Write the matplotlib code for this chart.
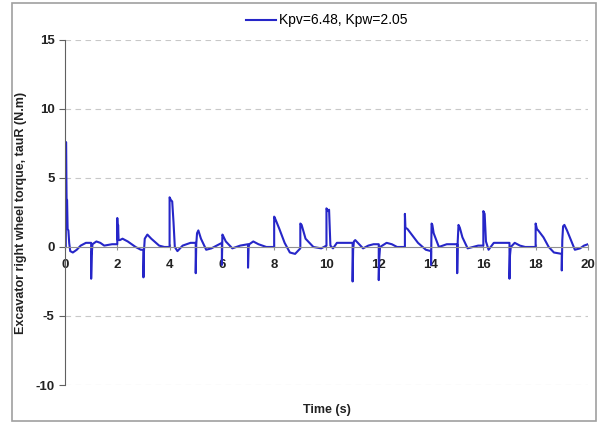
import numpy as np
import matplotlib.pyplot as plt
from matplotlib.patches import Rectangle

# Torque readings taken from the curve (time in s, torque in N.m)
t = [0.03, 0.04, 0.06, 0.08, 0.1, 0.13, 0.16, 0.2, 0.3, 0.45, 0.6, 0.8, 1.0,
     1.0, 1.02, 1.05, 1.2, 1.35, 1.5, 1.8, 2.0,
     2.0, 2.02, 2.03, 2.05, 2.1, 2.2, 2.4, 2.7, 2.9, 3.0,
     3.0, 3.02, 3.05, 3.15, 3.3, 3.6, 3.8, 4.0,
     4.0, 4.05, 4.1, 4.15, 4.2, 4.3, 4.5, 4.8, 5.0,
     5.0, 5.02, 5.05, 5.1, 5.2, 5.4, 5.6, 5.8, 6.0,
     6.0, 6.02, 6.05, 6.15, 6.4, 6.7, 7.0,
     7.0, 7.02, 7.05, 7.2, 7.4, 7.7, 8.0,
     8.0, 8.05, 8.2, 8.4, 8.6, 8.8, 9.0,
     9.0, 9.05, 9.2, 9.5, 9.8, 10.0,
     10.0, 10.05, 10.1, 10.15, 10.25, 10.4, 10.7, 11.0,
     11.0, 11.02, 11.05, 11.1, 11.25, 11.4, 11.6, 11.8, 12.0,
     12.0, 12.02, 12.05, 12.3, 12.5, 12.7, 13.0,
     13.0, 13.02, 13.1, 13.3, 13.5, 13.8, 14.0,
     14.0, 14.02, 14.05, 14.1, 14.3, 14.6, 15.0,
     15.0, 15.02, 15.05, 15.1, 15.2, 15.4, 15.6, 15.8, 16.0,
     16.0, 16.05, 16.1, 16.2, 16.4, 16.7, 17.0,
     17.0, 17.02, 17.05, 17.2, 17.4, 17.6, 18.0,
     18.0, 18.05, 18.1, 18.3, 18.5, 18.7, 19.0,
     19.0, 19.02, 19.05, 19.1, 19.2, 19.35, 19.5, 19.7, 19.85, 20.0]

tauR = [0.0, 7.6, 3.5, 3.4, 1.3, 1.2, 0.3, -0.3, -0.4, -0.2, 0.1, 0.3, 0.3,
        -2.3, -0.6, 0.2, 0.4, 0.3, 0.1, 0.2, 0.2,
        2.1, 0.5, 1.6, 0.5, 0.5, 0.6, 0.4, 0.0, -0.2, -0.2,
        -2.2, -0.3, 0.6, 0.9, 0.6, 0.1, 0.0, 0.0,
        3.6, 3.4, 3.3, 1.8, 0.0, -0.3, 0.1, 0.3, 0.3,
        -1.9, 0.2, 1.0, 1.2, 0.6, -0.2, -0.1, 0.1, 0.3,
        -1.3, 0.9, 0.8, 0.4, -0.1, 0.1, 0.2,
        -1.5, 0.0, 0.2, 0.4, 0.2, 0.0, 0.0,
        2.2, 2.0, 1.3, 0.3, -0.4, -0.5, -0.1,
        1.7, 1.6, 0.6, 0.0, -0.1, 0.1,
        2.8, 2.6, 2.7, 0.1, -0.1, 0.3, 0.3, 0.3,
        -2.5, -0.2, 0.4, 0.5, 0.2, -0.1, 0.1, 0.2, 0.2,
        -2.4, -0.8, 0.0, 0.3, 0.2, 0.0, 0.0,
        2.4, 1.4, 1.3, 0.8, 0.3, -0.2, -0.3,
        -1.3, 1.7, 1.6, 1.0, 0.0, 0.2, 0.2,
        -1.9, 0.4, 1.6, 1.4, 0.7, -0.1, 0.0, 0.1, 0.1,
        2.6, 2.4, 0.4, -0.2, 0.3, 0.3, 0.3,
        -2.3, -0.6, 0.0, 0.3, 0.1, 0.0, 0.0,
        1.7, 1.3, 1.2, 0.7, 0.0, -0.4, -0.5,
        -1.7, 0.5, 1.5, 1.6, 1.2, 0.5, -0.2, -0.1, 0.1, 0.2]

plt.rcParams['font.family'] = ['Liberation Sans', 'DejaVu Sans']
plt.rcParams['axes.unicode_minus'] = False

fig = plt.figure(figsize=(6.03, 4.25), dpi=100)
ax = fig.add_axes([0.1078, 0.0941, 0.8672, 0.8119])

# outer grey frame like the spreadsheet chart
fig.patches.append(Rectangle((0.02, 0.01), 0.968, 0.982, transform=fig.transFigure,
                             fill=False, edgecolor='#a0a0a0', linewidth=1.2))

ax.plot(t, tauR, color='#2626c8', linewidth=1.5, label='Kpv=6.48, Kpw=2.05')

ax.set_xlim(0, 20)
ax.set_ylim(-10, 15)
ax.set_xticks(np.arange(0, 21, 2))
ax.set_yticks([-10, -5, 0, 5, 10, 15])

for yv in [-10, -5, 5, 10, 15]:
    ax.axhline(yv, color='#c8c8c8', linestyle=(0, (5, 4)), linewidth=0.8, zorder=0)

ax.spines['top'].set_visible(False)
ax.spines['right'].set_visible(False)
ax.spines['bottom'].set_position(('data', 0))
ax.spines['bottom'].set_color('#909090')
ax.spines['left'].set_color('#606060')
ax.tick_params(axis='x', direction='inout', length=5, colors='#909090', labelcolor='#222222',
               labelsize=9.5, pad=6)
ax.tick_params(axis='y', direction='out', length=4, colors='#606060', labelcolor='#222222',
               labelsize=9.5)
for lab in ax.get_xticklabels() + ax.get_yticklabels():
    lab.set_fontweight('bold')

ax.set_xlabel('Time (s)', fontsize=9, fontweight='bold', color='#222222')
ax.xaxis.set_label_coords(0.5, -0.055)
ax.set_ylabel('Excavator right wheel torque, tauR (N.m)', fontsize=9, fontweight='bold',
              color='#222222')
ax.yaxis.set_label_coords(-0.072, 0.5)

ax.legend(loc='lower center', bbox_to_anchor=(0.5, 1.0), frameon=False, fontsize=10,
          handlelength=2.2, handletextpad=0.2)

fig.savefig('out.png', dpi=100)
